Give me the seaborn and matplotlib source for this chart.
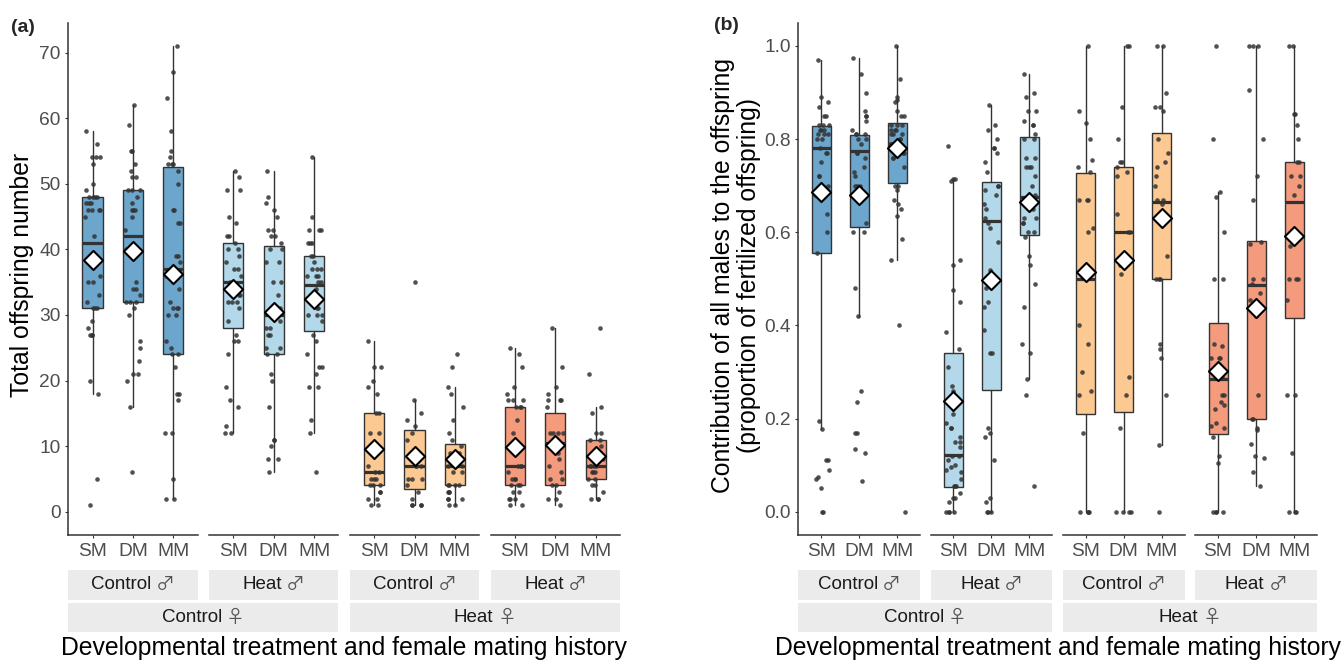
import numpy as np
import pandas as pd
import matplotlib.pyplot as plt
from matplotlib.patches import Rectangle
import seaborn as sns

sns.set_style("ticks")
plt.rcParams["font.family"] = ["Liberation Sans", "DejaVu Sans"]

mating = ["SM", "DM", "MM"]
male_labels = ["Control \u2642", "Heat \u2642", "Control \u2642", "Heat \u2642"]
female_labels = ["Control \u2640", "Heat \u2640"]
facet_colors = ["#6CA6CD", "#B3D8EA", "#FDC992", "#F49B7E"]

# ---- (a) total offspring number: points per facet, [SM, DM, MM]
a_f1 = [
    [58, 56, 54, 54, 54, 53, 50, 49, 48, 48, 48, 48, 47, 47, 47, 46, 46, 46, 46, 45, 42, 36, 35, 35,
     33, 32, 31, 31, 31, 29, 28, 27, 27, 27, 20, 18, 5, 1],
    [62, 59, 55, 55, 53, 52, 51, 51, 49, 49, 49, 48, 47, 46, 46, 46, 45, 43, 40, 35, 34, 34, 33, 32,
     32, 32, 31, 30, 26, 25, 23, 21, 21, 20, 16, 6],
    [71, 67, 63, 58, 55, 54, 53, 53, 53, 52, 50, 46, 46, 44, 44, 39, 39, 38, 36, 34, 32, 31, 31, 31,
     30, 30, 26, 25, 24, 24, 22, 18, 18, 17, 12, 12, 5, 2, 2],
]
a_f2 = [
    [52, 51, 49, 49, 45, 44, 42, 42, 41, 40, 40, 39, 38, 37, 37, 36, 35, 34, 33, 33, 32, 32, 32, 31,
     29, 27, 26, 26, 24, 19, 17, 16, 13, 12, 12],
    [52, 48, 47, 46, 45, 43, 43, 42, 42, 41, 40, 40, 38, 38, 35, 35, 33, 31, 30, 29, 28, 28, 27, 27,
     25, 25, 24, 24, 21, 20, 16, 11, 11, 10, 8, 8, 6],
    [54, 45, 43, 43, 43, 41, 41, 41, 39, 39, 38, 37, 37, 37, 36, 36, 36, 35, 35, 34, 33, 31, 31, 30,
     30, 30, 29, 27, 26, 24, 22, 22, 21, 19, 19, 14, 12, 6],
]
a_f3 = [
    [26, 22, 22, 20, 19, 18, 15, 15, 12, 12, 7, 6, 6, 5, 5, 5, 4, 4, 4, 3, 3, 2, 2, 1, 1],
    [35, 17, 15, 14, 13, 12, 11, 9, 7, 7, 7, 5, 5, 5, 4, 3, 2, 1, 1, 1, 1],
    [24, 22, 19, 18, 16, 14, 12, 11, 10, 9, 9, 8, 7, 7, 7, 6, 6, 4, 4, 4, 4, 3, 3, 3, 2, 2, 2, 1, 1],
]
a_f4 = [
    [25, 24, 22, 19, 18, 17, 17, 17, 16, 16, 16, 14, 12, 10, 7, 7, 7, 6, 5, 5, 5, 4, 4, 4, 3, 3, 2,
     2, 2, 1, 1],
    [28, 22, 19, 18, 17, 17, 17, 16, 12, 12, 12, 12, 11, 9, 8, 7, 6, 5, 5, 4, 4, 3, 2, 2, 1],
    [28, 21, 16, 15, 12, 12, 11, 11, 10, 9, 8, 8, 7, 7, 7, 7, 6, 6, 6, 5, 5, 4, 4, 3, 2, 2, 2],
]
a_q1 = [[31, 32, 24], [28, 24, 27.5], [4, 3.5, 4], [4, 4, 5]]
a_med = [[41, 42, 37], [35, 30, 34.5], [6, 7, 7], [7, 10.5, 7]]
a_q3 = [[48, 49, 52.5], [41, 40.5, 39], [15, 12.5, 10.3], [16, 15, 11]]
a_lo = [[18, 16, 2], [12, 6, 12], [1, 1, 1], [1, 1, 2]]
a_hi = [[58, 62, 71], [52, 52, 54], [26, 17, 19], [25, 28, 16]]
a_mean = [[38.3, 39.8, 36.3], [33.9, 30.4, 32.5], [9.5, 8.5, 8.0], [9.8, 10.2, 8.5]]

# ---- (b) proportion of fertilized offspring
b_f1 = [
    [0.97, 0.89, 0.88, 0.87, 0.85, 0.85, 0.83, 0.83, 0.83, 0.82, 0.82, 0.82, 0.81, 0.81, 0.81, 0.80,
     0.80, 0.78, 0.77, 0.77, 0.75, 0.72, 0.72, 0.70, 0.68, 0.64, 0.60, 0.555, 0.195, 0.178, 0.11,
     0.11, 0.09, 0.075, 0.07, 0.05, 0.0, 0.0],
    [0.974, 0.94, 0.90, 0.86, 0.85, 0.85, 0.84, 0.82, 0.81, 0.81, 0.81, 0.80, 0.80, 0.79, 0.77, 0.77,
     0.76, 0.74, 0.73, 0.72, 0.70, 0.70, 0.70, 0.68, 0.68, 0.62, 0.60, 0.60, 0.48, 0.42, 0.26,
     0.235, 0.17, 0.17, 0.135, 0.125, 0.065],
    [1.0, 0.93, 0.89, 0.885, 0.88, 0.86, 0.85, 0.85, 0.83, 0.83, 0.83, 0.82, 0.82, 0.82, 0.81, 0.81,
     0.81, 0.80, 0.80, 0.79, 0.79, 0.79, 0.78, 0.78, 0.77, 0.77, 0.76, 0.76, 0.74, 0.70, 0.70,
     0.69, 0.67, 0.66, 0.65, 0.635, 0.585, 0.54, 0.40, 0.0],
]
b_f2 = [
    [0.785, 0.714, 0.714, 0.71, 0.54, 0.53, 0.475, 0.45, 0.385, 0.35, 0.31, 0.27, 0.26, 0.21, 0.19,
     0.18, 0.18, 0.16, 0.15, 0.15, 0.14, 0.12, 0.12, 0.11, 0.10, 0.095, 0.09, 0.085, 0.07, 0.055,
     0.055, 0.055, 0.04, 0.03, 0.03, 0.02, 0.0, 0.0, 0.0, 0.0],
    [0.873, 0.83, 0.82, 0.80, 0.78, 0.78, 0.77, 0.75, 0.73, 0.70, 0.70, 0.69, 0.68, 0.66, 0.65, 0.63,
     0.62, 0.61, 0.58, 0.52, 0.48, 0.45, 0.44, 0.39, 0.34, 0.34, 0.18, 0.17, 0.16, 0.11, 0.03,
     0.02, 0.0, 0.0, 0.0],
    [0.94, 0.90, 0.89, 0.86, 0.86, 0.84, 0.83, 0.83, 0.81, 0.80, 0.80, 0.76, 0.76, 0.74, 0.74, 0.74,
     0.72, 0.70, 0.68, 0.68, 0.67, 0.66, 0.66, 0.65, 0.63, 0.63, 0.62, 0.62, 0.60, 0.60, 0.59,
     0.55, 0.53, 0.49, 0.44, 0.36, 0.34, 0.285, 0.25, 0.055],
]
b_f3 = [
    [1.0, 0.86, 0.835, 0.80, 0.755, 0.74, 0.73, 0.67, 0.67, 0.67, 0.61, 0.60, 0.40, 0.36, 0.30, 0.26,
     0.25, 0.17, 0.0, 0.0, 0.0, 0.0],
    [1.0, 1.0, 0.87, 0.80, 0.75, 0.75, 0.74, 0.73, 0.72, 0.64, 0.60, 0.60, 0.53, 0.51, 0.29, 0.25,
     0.18, 0.0, 0.0, 0.0, 0.0],
    [1.0, 1.0, 0.90, 0.87, 0.87, 0.86, 0.80, 0.77, 0.75, 0.74, 0.72, 0.70, 0.67, 0.67, 0.66, 0.63,
     0.55, 0.50, 0.50, 0.50, 0.36, 0.35, 0.33, 0.25, 0.143, 0.0],
]
b_f4 = [
    [1.0, 0.80, 0.686, 0.675, 0.60, 0.50, 0.50, 0.36, 0.355, 0.33, 0.33, 0.33, 0.31, 0.29, 0.25, 0.25,
     0.235, 0.23, 0.22, 0.19, 0.185, 0.18, 0.16, 0.12, 0.105, 0.0, 0.0, 0.0, 0.0],
    [1.0, 1.0, 1.0, 0.905, 0.80, 0.72, 0.67, 0.58, 0.575, 0.50, 0.50, 0.49, 0.47, 0.455, 0.42, 0.25,
     0.20, 0.20, 0.18, 0.175, 0.145, 0.12, 0.115, 0.085, 0.055],
    [1.0, 1.0, 0.855, 0.855, 0.83, 0.80, 0.75, 0.75, 0.72, 0.72, 0.70, 0.68, 0.57, 0.50, 0.50, 0.50,
     0.455, 0.25, 0.25, 0.125, 0.0, 0.0, 0.0],
]
b_q1 = [[0.556, 0.612, 0.705], [0.054, 0.261, 0.594], [0.209, 0.214, 0.5], [0.167, 0.2, 0.416]]
b_med = [[0.78, 0.775, 0.78], [0.122, 0.625, 0.676], [0.5, 0.6, 0.666], [0.285, 0.487, 0.666]]
b_q3 = [[0.828, 0.809, 0.834], [0.34, 0.707, 0.805], [0.728, 0.741, 0.814], [0.406, 0.582, 0.75]]
b_lo = [[0.178, 0.419, 0.541], [0, 0, 0.285], [0, 0, 0.143], [0, 0.055, 0]]
b_hi = [[0.97, 0.974, 1.0], [0.714, 0.873, 0.939], [1, 1, 1], [0.686, 1, 1]]
b_mean = [[0.686, 0.681, 0.782], [0.238, 0.497, 0.665], [0.514, 0.541, 0.631], [0.303, 0.437, 0.592]]

W, H = 1341, 660
fig = plt.figure(figsize=(W / 100, H / 100), dpi=100)
renderer = fig.canvas.get_renderer()
np.random.seed(7)

ink = "#333333"
tick_grey = "#4D4D4D"
sym_font = ["Noto Sans CJK JP", "DejaVu Sans"]


def frac_rect(x0, y0, x1, y1):
    # pixel box (top-left origin) -> figure fraction [left, bottom, width, height]
    return [x0 / W, 1 - y1 / H, (x1 - x0) / W, (y1 - y0) / H]


def strip_label(xc, yc, label):
    # word in the main font, sex sign in a thinner font, centred together
    word, sign = label.rsplit(" ", 1)
    t1 = fig.text(0, 1 - yc / H, word, ha="left", va="center", fontsize=13.5, color="#1A1A1A")
    t2 = fig.text(0, 1 - yc / H, sign, ha="left", va="center", fontsize=13.5, color="#555555",
                  family=sym_font)
    w1 = t1.get_window_extent(renderer).width
    w2 = t2.get_window_extent(renderer).width
    gap = 4
    left = xc - (w1 + gap + w2) / 2
    t1.set_x(left / W)
    t2.set_x((left + w1 + gap) / W)


def draw_panel(starts, width, pts, q1, med, q3, lo, hi, mean, ylim, yticks, ylabels):
    for k in range(4):
        ax = fig.add_axes(frac_rect(starts[k], 22.7, starts[k] + width, 535))
        df = pd.DataFrame({
            "mating": np.repeat(mating, [len(p) for p in pts[k]]),
            "value": np.concatenate(pts[k]),
        })
        stats = [dict(q1=q1[k][i], med=med[k][i], q3=q3[k][i],
                      whislo=lo[k][i], whishi=hi[k][i], label=mating[i]) for i in range(3)]
        ax.bxp(stats, positions=range(3), widths=0.5, patch_artist=True,
               showfliers=False, showcaps=False, manage_ticks=False,
               boxprops=dict(facecolor=facet_colors[k], edgecolor=ink, linewidth=1.0),
               whiskerprops=dict(color=ink, linewidth=1.0),
               medianprops=dict(color=ink, linewidth=2.3, solid_capstyle="butt"),
               zorder=2)
        sns.stripplot(data=df, x="mating", y="value", order=mating, jitter=0.2,
                      size=3.3, color=ink, alpha=0.85, linewidth=0, ax=ax, zorder=3)
        ax.scatter(range(3), mean[k], marker="D", s=95, facecolor="white",
                   edgecolor="black", linewidth=1.5, zorder=4)

        ax.set_xlim(-0.6, 2.6)
        ax.set_ylim(*ylim)
        ax.set_xlabel("")
        ax.set_ylabel("")
        ax.set_xticks(range(3))
        ax.set_xticklabels(mating)
        ax.patch.set_alpha(0)
        for s in ["top", "right"]:
            ax.spines[s].set_visible(False)
        ax.spines["bottom"].set_color(ink)
        ax.spines["bottom"].set_linewidth(1.1)
        ax.tick_params(axis="x", length=2.5, width=0.8, color=ink, pad=3.5,
                       labelsize=13.8, labelcolor=tick_grey)
        if k == 0:
            ax.spines["left"].set_color(ink)
            ax.spines["left"].set_linewidth(1.1)
            ax.set_yticks(yticks)
            ax.set_yticklabels(ylabels)
            ax.tick_params(axis="y", length=2.5, width=0.8, color=ink, pad=3,
                           labelsize=13.8, labelcolor=tick_grey)
        else:
            ax.spines["left"].set_visible(False)
            ax.set_yticks([])

    # strips: male treatment row, then female treatment row
    for k in range(4):
        x0, x1 = starts[k], starts[k] + width
        fig.add_artist(Rectangle((x0 / W, 1 - 599.5 / H), (x1 - x0) / W, 30 / H,
                                 transform=fig.transFigure, facecolor="#EBEBEB", edgecolor="none"))
        strip_label((x0 + x1) / 2, 584.5, male_labels[k])
    for j in range(2):
        x0, x1 = starts[2 * j], starts[2 * j + 1] + width
        fig.add_artist(Rectangle((x0 / W, 1 - 632 / H), (x1 - x0) / W, 29.5 / H,
                                 transform=fig.transFigure, facecolor="#EBEBEB", edgecolor="none"))
        strip_label((x0 + x1) / 2, 617, female_labels[j])
    xc = (starts[0] + starts[3] + width) / 2
    fig.text(xc / W, 1 - 648 / H, "Developmental treatment and female mating history",
             ha="center", va="center", fontsize=17.8, color="black")


a_starts = [68.3, 209.1, 349.9, 490.7]
b_starts = [798.3, 930.6, 1062.9, 1195.2]

draw_panel(a_starts, 129.3, [a_f1, a_f2, a_f3, a_f4], a_q1, a_med, a_q3, a_lo, a_hi, a_mean,
           (-3.55, 74.55), list(range(0, 71, 10)), [str(v) for v in range(0, 71, 10)])
draw_panel(b_starts, 121.6, [b_f1, b_f2, b_f3, b_f4], b_q1, b_med, b_q3, b_lo, b_hi, b_mean,
           (-0.05, 1.05), [0, 0.2, 0.4, 0.6, 0.8, 1.0], ["0.0", "0.2", "0.4", "0.6", "0.8", "1.0"])

fig.text(22 / W, 1 - 275 / H, "Total offspring number", rotation=90, ha="center", va="center",
         fontsize=17.8, color="black")
fig.text(736 / W, 1 - 275 / H,
         "Contribution of all males to the offspring\n(proportion of fertilized offspring)",
         rotation=90, ha="center", va="center", multialignment="center", linespacing=1.15,
         fontsize=17.8, color="black")
fig.text(23 / W, 1 - 27 / H, "(a)", ha="center", va="center", fontsize=14, fontweight="bold")
fig.text(726 / W, 1 - 26 / H, "(b)", ha="center", va="center", fontsize=14, fontweight="bold")

fig.savefig("out.png", dpi=100)
